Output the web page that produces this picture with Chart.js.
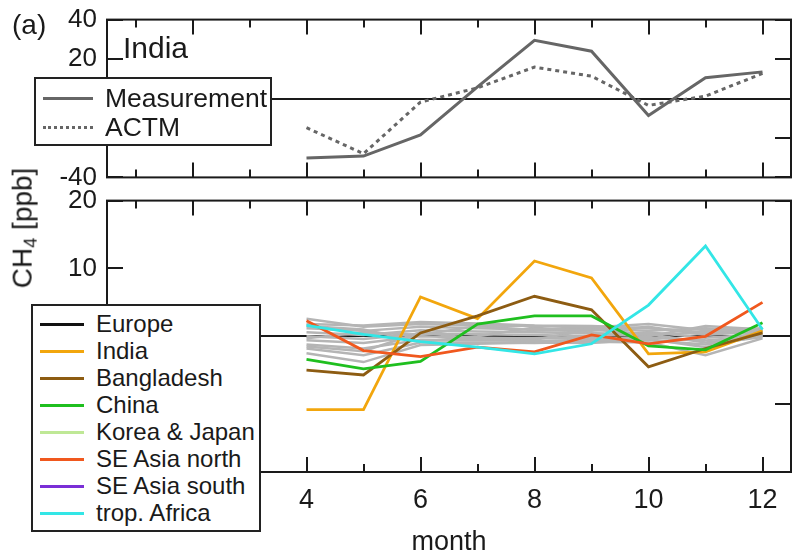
<!DOCTYPE html>
<html>
<head>
<meta charset="utf-8">
<script src="https://cdn.jsdelivr.net/npm/chart.js@4.4.1/dist/chart.umd.min.js"></script>
<style>
  body { margin: 0; background: #fff; font-family: "Liberation Sans", Arial, sans-serif; color: #1a1a1a; }
  #wrap { position: relative; width: 792px; height: 557px; overflow: hidden; }
  canvas { position: absolute; left: 0; }
  .txt { position: absolute; white-space: nowrap; line-height: 1; }
  .legend { position: absolute; background: #fff; border: 2px solid #222; box-sizing: border-box; }
  .row { position: absolute; left: 0; display: flex; align-items: center; white-space: nowrap; }
  .row span.ln { display: inline-block; height: 0; }
  sub { font-size: 65%; vertical-align: -0.25em; }
</style>
</head>
<body>
<div id="wrap">
  <canvas id="topChart" width="792" height="190" style="top:0"></canvas>
  <canvas id="bottomChart" width="792" height="367" style="top:190px"></canvas>
  <div class="txt" style="left:12px;top:11px;font-size:28px;">(a)</div>
  <div class="txt" style="left:123px;top:33px;font-size:30px;">India</div>
  <div class="txt" style="left:24px;top:228px;font-size:28px;transform:translate(-50%,-50%) rotate(-90deg);">CH<sub>4</sub> [ppb]</div>
  <div id="legendTop" class="legend" style="left:34px;top:77px;width:238px;height:69px;"></div>
  <div id="legendBottom" class="legend" style="left:31px;top:304px;width:230px;height:228px;"></div>
</div>
<script>
// ---- data ----
const months = [4, 5, 6, 7, 8, 9, 10, 11, 12];
const monthTicks = [1, 2, 3, 4, 5, 6, 7, 8, 9, 10, 11, 12];
const monthLabels = [4, 6, 8, 10, 12];

// top panel (India)
const measurement = [-30.2, -29.2, -18.5, 5.9, 29.5, 24.0, -8.6, 10.5, 13.5];
const actm = [-14.8, -28.0, -1.8, 5.4, 15.9, 11.3, -3.5, 1.2, 12.7];
const topYTicks = [-40, -30, -20, -10, 0, 10, 20, 30, 40];
const topYLabels = [-40, -20, 0, 20, 40];

// bottom panel (regions)
const regionNames = ['Europe', 'India', 'Bangladesh', 'China', 'Korea & Japan', 'SE Asia north', 'SE Asia south', 'trop. Africa'];
const regionColors = ['#111111', '#f2a60d', '#8d5c12', '#1fbf1f', '#bfe896', '#f0581e', '#7a2fd6', '#33e6e6'];
const europe = [];
const india = [-10.8, -10.8, 5.8, 2.6, 11.1, 8.6, -2.6, -2.3, 0.8];
const bangladesh = [-5.0, -5.7, 0.5, 3.0, 5.9, 3.9, -4.5, -1.8, 0.5];
const china = [-3.4, -4.8, -3.7, 1.8, 3.0, 3.0, -1.4, -2.0, 2.0];
const koreaJapan = [];
const seAsiaNorth = [2.3, -2.1, -3.0, -1.6, -2.3, 0.2, -1.1, 0.0, 5.0];
const seAsiaSouth = [];
const tropAfrica = [1.6, 0.3, -0.8, -1.6, -2.6, -1.1, 4.6, 13.3, 1.0];
const regionValues = [europe, india, bangladesh, china, koreaJapan, seAsiaNorth, seAsiaSouth, tropAfrica];

// other regions (grey, unlabelled)
const greyLines = [
  [2.6, 1.4, 1.8, 1.6, 1.5, 1.3, 1.8, 0.9, 1.2],
  [1.8, 1.6, 2.1, 1.9, 1.6, 1.5, 1.2, 0.6, 0.9],
  [1.2, 0.8, 1.4, 1.2, 1.0, 1.1, 0.8, 1.2, 0.7],
  [0.6, 0.2, 0.9, 0.7, 0.6, 0.4, 0.3, 0.5, 0.5],
  [0.0, -0.4, 0.4, 0.3, 0.2, 0.0, 0.6, -0.2, 0.3],
  [-0.6, -1.0, 0.0, -0.2, -0.3, -0.2, -0.2, -0.6, 0.1],
  [-1.2, -1.8, -0.5, -0.6, -0.7, -0.5, -0.6, -1.2, -0.1],
  [-1.8, -2.8, -0.9, -0.9, -1.0, -0.8, -0.9, -2.8, -0.3],
  [-2.5, -3.8, -1.3, -1.1, -0.9, -1.0, -0.4, -1.6, 0.2],
  [-0.3, 0.6, 0.2, 1.5, 0.9, 0.8, 1.4, 0.2, 0.8],
  [1.5, 1.0, -0.8, 0.0, 1.3, 0.5, 0.0, 1.5, 1.0],
  [-1.5, -2.2, 0.6, -0.4, -0.5, 1.0, 0.3, -0.9, 0.0]
];
const bottomYTicks = [-20, -10, 0, 10, 20];

const FONT = '"Liberation Sans", Arial, sans-serif';
const pts = arr => arr.map((v, i) => ({ x: months[i], y: v }));

// frame + inward tick marks, positions from the chart's own scales
const framePlugin = {
  id: 'frame',
  afterDraw(chart, args, opts) {
    const { ctx, chartArea: a, scales } = chart;
    ctx.save();
    ctx.strokeStyle = '#1a1a1a';
    ctx.lineWidth = 2;
    ctx.beginPath();
    scales.x.ticks.forEach(t => {
      const px = Math.round(scales.x.getPixelForValue(t.value));
      const len = t.value % opts.xMajor === 0 ? 15 : 8;
      ctx.moveTo(px, a.top); ctx.lineTo(px, a.top + len);
      ctx.moveTo(px, a.bottom); ctx.lineTo(px, a.bottom - len);
    });
    scales.y.ticks.forEach(t => {
      const py = Math.round(scales.y.getPixelForValue(t.value));
      const len = t.value % opts.yMajor === 0 ? 16 : 8;
      ctx.moveTo(a.left, py); ctx.lineTo(a.left + len, py);
      ctx.moveTo(a.right, py); ctx.lineTo(a.right - len, py);
    });
    ctx.stroke();
    ctx.strokeRect(a.left, a.top, a.right - a.left, a.bottom - a.top);
    ctx.restore();
  }
};

const zeroGrid = {
  drawTicks: false,
  lineWidth: 2,
  color: c => (c.tick && c.tick.value === 0 ? '#1a1a1a' : 'rgba(0,0,0,0)')
};

function topConfig() {
  return {
    type: 'line',
    data: {
      datasets: [
        { label: 'Measurement', data: pts(measurement), borderColor: '#666666', borderWidth: 3, pointRadius: 0, tension: 0 },
        { label: 'ACTM', data: pts(actm), borderColor: '#666666', borderWidth: 3, borderDash: [4, 4], pointRadius: 0, tension: 0 }
      ]
    },
    options: {
      responsive: false,
      maintainAspectRatio: false,
      animation: false,
      layout: { padding: { left: 0, top: 16, right: 1, bottom: 0 } },
      plugins: { legend: { display: false }, tooltip: { enabled: false }, frame: { xMajor: 2, yMajor: 20 } },
      scales: {
        x: {
          type: 'linear', min: 0.5, max: 12.5,
          afterBuildTicks: s => { s.ticks = monthTicks.map(v => ({ value: v })); },
          ticks: { display: false },
          grid: { display: false, drawTicks: false },
          border: { display: false },
          afterFit: s => { s.height = 12; }
        },
        y: {
          min: -40, max: 40,
          afterBuildTicks: s => { s.ticks = topYTicks.map(v => ({ value: v })); },
          ticks: {
            callback: v => (topYLabels.includes(v) ? String(v) : ''),
            font: { size: 26, family: FONT }, color: '#1a1a1a', padding: 10
          },
          grid: zeroGrid,
          border: { display: false },
          afterFit: s => { s.width = 107; }
        }
      }
    },
    plugins: [framePlugin]
  };
}

function bottomConfig() {
  const sets = [];
  greyLines.forEach(g => {
    sets.push({ label: '', data: pts(g), borderColor: '#b5b5b5', borderWidth: 2.5, pointRadius: 0, tension: 0, order: 20 });
  });
  const regionOrder = [9, 6, 5, 4, 8, 3, 7, 1];
  regionNames.forEach((n, i) => {
    sets.push({ label: n, data: pts(regionValues[i]), borderColor: regionColors[i], borderWidth: 2.8, pointRadius: 0, tension: 0, order: regionOrder[i] });
  });
  return {
    type: 'line',
    data: { datasets: sets },
    options: {
      responsive: false,
      maintainAspectRatio: false,
      animation: false,
      layout: { padding: { left: 0, top: 11, right: 1, bottom: 0 } },
      plugins: { legend: { display: false }, tooltip: { enabled: false }, frame: { xMajor: 2, yMajor: 10 } },
      scales: {
        x: {
          type: 'linear', min: 0.5, max: 12.5,
          afterBuildTicks: s => { s.ticks = monthTicks.map(v => ({ value: v })); },
          ticks: {
            autoSkip: false, maxRotation: 0,
            callback: v => (monthLabels.includes(v) ? String(v) : ''),
            font: { size: 27, family: FONT }, color: '#1a1a1a', padding: 12
          },
          title: { display: true, text: 'month', font: { size: 27, family: FONT, lineHeight: 1 }, color: '#1a1a1a', padding: { top: 0, bottom: 1 } },
          grid: { display: false, drawTicks: false },
          border: { display: false },
          afterFit: s => { s.height = 85; }
        },
        y: {
          min: -20, max: 20,
          afterBuildTicks: s => { s.ticks = bottomYTicks.map(v => ({ value: v })); },
          ticks: { font: { size: 26, family: FONT }, color: '#1a1a1a', padding: 10 },
          grid: zeroGrid,
          border: { display: false },
          afterFit: s => { s.width = 107; }
        }
      }
    },
    plugins: [framePlugin]
  };
}

// build once, see how much room the axes take, then size the canvas so the plot box lands where wanted
function placeChart(id, makeConfig, areaTop, areaBottom) {
  const canvas = document.getElementById(id);
  let chart = new Chart(canvas, makeConfig());
  const usedTop = chart.chartArea.top;
  const usedBottom = chart.height - chart.chartArea.bottom;
  chart.destroy();
  const h = Math.round(areaBottom - areaTop + usedTop + usedBottom);
  canvas.height = h;
  canvas.style.height = h + 'px';
  canvas.style.top = Math.round(areaTop - usedTop) + 'px';
  return new Chart(canvas, makeConfig());
}
placeChart('topChart', topConfig, 20, 178);
placeChart('bottomChart', bottomConfig, 201, 472);

// ---- html legends built from the same arrays ----
function buildLegend(el, names, colors, dashes, opt) {
  names.forEach((n, i) => {
    const row = document.createElement('div');
    row.className = 'row';
    row.style.top = (opt.first + opt.step * i - 14) + 'px';
    row.style.height = '28px';
    row.style.fontSize = opt.size + 'px';
    const ln = document.createElement('span');
    ln.className = 'ln';
    ln.style.marginLeft = opt.lineLeft + 'px';
    ln.style.width = opt.lineW + 'px';
    ln.style.borderTop = opt.lineT + 'px ' + dashes[i] + ' ' + colors[i];
    const tx = document.createElement('span');
    tx.textContent = n;
    tx.style.marginLeft = opt.gap + 'px';
    row.appendChild(ln);
    row.appendChild(tx);
    el.appendChild(row);
  });
}
buildLegend(document.getElementById('legendTop'), ['Measurement', 'ACTM'], ['#666666', '#666666'], ['solid', 'dotted'],
  { first: 19, step: 29, size: 26.5, lineLeft: 7, lineW: 50, lineT: 3, gap: 12 });
buildLegend(document.getElementById('legendBottom'), regionNames, regionColors, regionNames.map(() => 'solid'),
  { first: 18, step: 27, size: 24, lineLeft: 7, lineW: 44, lineT: 3, gap: 12 });
</script>
</body>
</html>
